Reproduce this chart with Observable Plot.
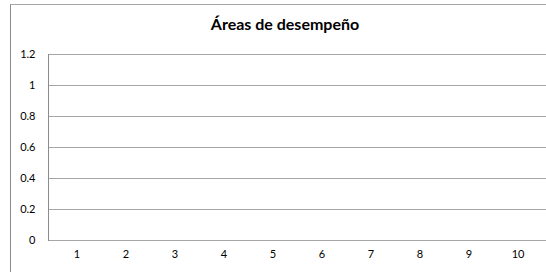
<!DOCTYPE html>
<html>
<head>
<meta charset="utf-8">
<script src="https://cdn.jsdelivr.net/npm/d3@7"></script>
<script src="https://cdn.jsdelivr.net/npm/@observablehq/plot@0.6"></script>
<style>
  html, body { margin: 0; padding: 0; background: #fff; }
  #wrap { position: relative; width: 546px; height: 272px; overflow: hidden; background: #fff; }
  #border { position: absolute; left: 10px; top: 4px; width: 600px; height: 400px;
            border-top: 1.5px solid #a6a6a6; border-left: 1.5px solid #8c8c8c; box-sizing: border-box; }
  #title { position: absolute; left: 0; width: 570px; top: 14px; text-align: center;
           font-family: Lato, "Open Sans", sans-serif; font-weight: bold; font-size: 16px; color: #000; }
  #chart { position: absolute; left: 0; top: 0; }
</style>
</head>
<body>
<div id="wrap">
  <div id="border"></div>
  <div id="title">Áreas de desempeño</div>
  <div id="chart"></div>
</div>
<script>
const title = "Áreas de desempeño";
const categories = ["1", "2", "3", "4", "5", "6", "7", "8", "9", "10"];
const seriesValues = []; // the reference chart shows no plotted values
const yTicks = [0, 0.2, 0.4, 0.6, 0.8, 1, 1.2];
const yTickLabels = ["0", "0.2", "0.4", "0.6", "0.8", "1", "1.2"];

const chart = Plot.plot({
  width: 546,
  height: 272,
  marginTop: 54,
  marginBottom: 32,
  marginLeft: 48,
  marginRight: 0,
  style: { fontFamily: "Lato, 'Open Sans', sans-serif", fontSize: "11px", color: "#000", background: "transparent" },
  x: { type: "band", domain: categories, padding: 0 },
  y: { domain: [0, 1.2] },
  marks: [
    Plot.ruleY(yTicks, { stroke: "#a6a6a6", strokeWidth: 1 }),
    Plot.frame({ anchor: "left", stroke: "#8c8c8c", strokeWidth: 1 }),
    Plot.axisY({ ticks: yTicks, tickSize: 0, tickPadding: 13,
                 tickFormat: (d) => yTickLabels[yTicks.indexOf(d)], label: null }),
    Plot.axisX({ tickSize: 0, tickPadding: 10, label: null })
  ]
});
document.getElementById("chart").appendChild(chart);
</script>
</body>
</html>
